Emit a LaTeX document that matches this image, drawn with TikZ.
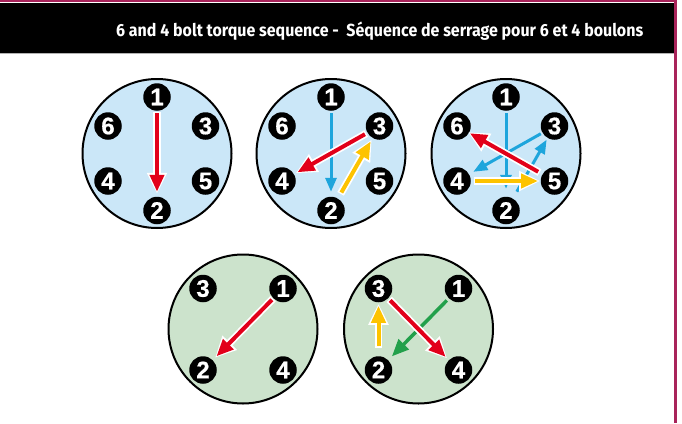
\documentclass[tikz,border=0pt]{standalone}
\usepackage{fontspec}
\setmainfont{Liberation Sans}
\usetikzlibrary{arrows.meta}
\newfontfamily\headfont{Fira Sans}
\newfontfamily\boltfont{Liberation Sans Bold}[FakeBold=0.6]
\definecolor{tred}{HTML}{E2001A}
\definecolor{tblue}{HTML}{1EA5DC}
\definecolor{tyellow}{HTML}{FDC300}
\definecolor{tgreen}{HTML}{22A04B}
\definecolor{sixfill}{HTML}{CBE7F8}
\definecolor{fourfill}{HTML}{CCE3CC}
\definecolor{frame}{HTML}{A8235A}
\tikzset{
  plate/.style={draw=black, line width=2pt, circle, minimum size=149pt, inner sep=0pt},
  bolt/.style={circle, fill=black, text=white, minimum size=27.5pt, inner sep=0pt, outer sep=0pt,
    font=\boltfont\fontsize{24}{24}\selectfont},
  halo/.style={draw=white, line width=7.5pt, -{Triangle[length=21pt,width=19pt]}},
  main/.style={line width=4pt, -{Triangle[length=17pt,width=14pt]}},
  thin/.style={line width=3pt, -{Triangle[length=14pt,width=11pt]}},
}
% colour, from, to, start gap, end gap
\newcommand\haloarrow[5]{%
  \draw[halo, shorten <=#4-1.5pt, shorten >=#5-2pt] (#2) -- (#3);
  \draw[main, draw=#1, fill=#1, shorten <=#4, shorten >=#5] (#2) -- (#3);}
\newcommand\thinarrow[5]{%
  \draw[thin, draw=#1, fill=#1, shorten <=#4, shorten >=#5] (#2) -- (#3);}
\begin{document}
\begin{tikzpicture}[x=1pt, y=-1pt]
\useasboundingbox (0,0) rectangle (682,423);
% frame and title bar
\fill[black] (0,3) rectangle (674,53);
\draw[frame, line width=1.5pt] (0,0.8) -- (676,0.8);
\draw[frame, line width=2.5pt] (675.5,0) -- (675.5,423);
\draw[gray!60, line width=0.6pt] (0,53.5) -- (674,53.5);
\node[anchor=base west, inner sep=0pt, text=white] (title) at (116,36.7)
  {\resizebox{527pt}{\height}{\headfont\fontsize{17.5}{17.5}\selectfont\bfseries 6 and 4 bolt torque sequence -\ \ Séquence de serrage pour 6 et 4 boulons}};

% six-bolt plates
\foreach \p/\cx in {A/157, B/331, C/506}{
  \node[plate, fill=sixfill] (\p) at (\cx,153.5) {};
  \node[bolt] (\p1) at (\cx,97) {1};
  \node[bolt] (\p2) at (\cx,210.5) {2};
  \node[bolt] (\p3) at (\cx+48.5,126) {3};
  \node[bolt] (\p4) at (\cx-49,181) {4};
  \node[bolt] (\p5) at (\cx+48.5,181) {5};
  \node[bolt] (\p6) at (\cx-49,126) {6};
}
% four-bolt plates
\foreach \p/\cx in {D/243, E/418.5}{
  \node[plate, fill=fourfill] (\p) at (\cx,329) {};
  \node[bolt] (\p1) at (\cx+40,288.5) {1};
  \node[bolt] (\p2) at (\cx-40,370) {2};
  \node[bolt] (\p3) at (\cx-40,288.5) {3};
  \node[bolt] (\p4) at (\cx+40,370) {4};
}

% plate A
\haloarrow{tred}{A1}{A2}{2.5pt}{5pt}
% plate B
\thinarrow{tblue}{B1}{B2}{2.5pt}{5pt}
\haloarrow{tyellow}{B2}{B3}{7pt}{4pt}
\haloarrow{tred}{B3}{B4}{3pt}{4pt}
% plate C
\thinarrow{tblue}{C1}{C2}{2.5pt}{8pt}
\thinarrow{tblue}{C2}{C3}{8pt}{2pt}
\thinarrow{tblue}{C3}{C4}{2pt}{5pt}
\haloarrow{tyellow}{C4}{C5}{4.5pt}{2.7pt}
\haloarrow{tred}{C5}{C6}{5pt}{1pt}
% plate D
\haloarrow{tred}{D1}{D2}{2pt}{5.5pt}
% plate E
\draw[main, draw=tgreen, fill=tgreen, line width=3.5pt, shorten <=3pt, shorten >=5.4pt] (E1) -- (E2);
\haloarrow{tyellow}{E2}{E3}{10pt}{3.5pt}
\haloarrow{tred}{E3}{E4}{3pt}{4.6pt}
\end{tikzpicture}
\end{document}
